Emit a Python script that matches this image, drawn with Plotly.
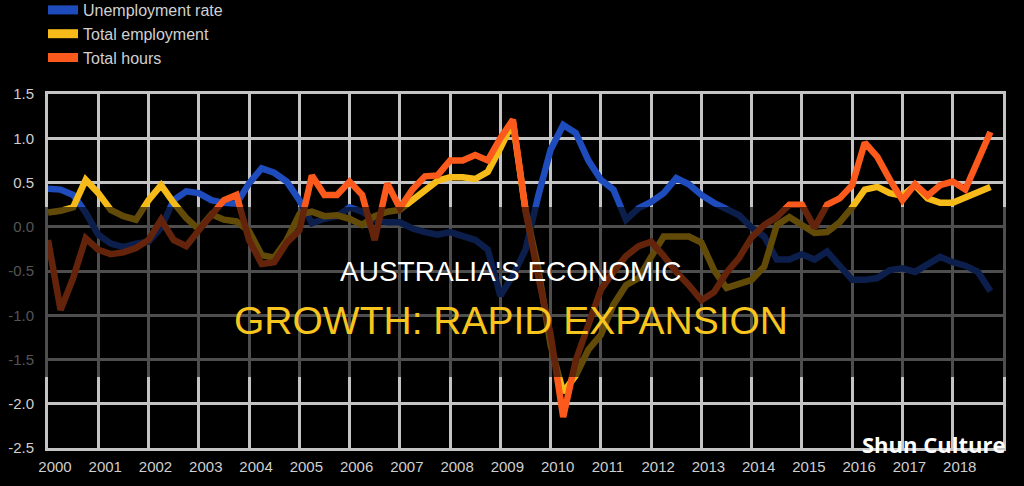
import plotly.graph_objects as go

# ---- data (quarterly, 2000 Q1 .. 2018 Q4) ----
years = list(range(2000, 2019))
quarters = [y + q / 4 for y in years for q in range(4)]

unemployment_rate = [
    0.43, 0.42, 0.36, 0.16, -0.09, -0.19, -0.23, -0.19,
    -0.17, -0.01, 0.30, 0.40, 0.38, 0.30, 0.27, 0.26,
    0.49, 0.66, 0.61, 0.51, 0.30, 0.04, 0.09, 0.12,
    0.22, 0.17, 0.08, 0.05, 0.05, -0.02, -0.06, -0.09,
    -0.06, -0.10, -0.15, -0.26, -0.78, -0.55, -0.26, 0.34,
    0.87, 1.15, 1.06, 0.75, 0.53, 0.42, 0.08, 0.21,
    0.28, 0.38, 0.55, 0.48, 0.36, 0.27, 0.21, 0.13,
    -0.01, -0.11, -0.37, -0.37, -0.31, -0.37, -0.28, -0.44,
    -0.60, -0.60, -0.58, -0.49, -0.47, -0.51, -0.42, -0.34,
    -0.40, -0.44, -0.51, -0.73,
]
total_employment = [
    0.16, 0.18, 0.22, 0.53, 0.38, 0.19, 0.12, 0.08,
    0.30, 0.47, 0.27, 0.10, -0.03, 0.14, 0.08, 0.06,
    -0.05, -0.32, -0.35, -0.15, 0.14, 0.17, 0.12, 0.13,
    0.09, 0.02, 0.12, 0.17, 0.19, 0.30, 0.39, 0.52,
    0.56, 0.56, 0.54, 0.62, 0.89, 1.18, 0.19, -0.46,
    -1.34, -1.87, -1.68, -1.39, -1.22, -0.88, -0.66, -0.58,
    -0.34, -0.11, -0.11, -0.11, -0.18, -0.49, -0.69, -0.65,
    -0.60, -0.45, 0.02, 0.11, 0.03, -0.07, -0.06, 0.05,
    0.22, 0.42, 0.45, 0.38, 0.35, 0.47, 0.32, 0.27,
    0.27, 0.33, 0.40, 0.45,
]
total_hours = [
    -0.15, -0.94, -0.58, -0.13, -0.26, -0.31, -0.29, -0.24,
    -0.15, 0.08, -0.15, -0.22, -0.04, 0.13, 0.30, 0.36,
    -0.15, -0.42, -0.40, -0.18, -0.04, 0.58, 0.36, 0.36,
    0.51, 0.36, -0.15, 0.49, 0.21, 0.42, 0.57, 0.58,
    0.75, 0.75, 0.81, 0.75, 1.00, 1.21, 0.19, -0.55,
    -1.22, -2.15, -1.51, -1.11, -0.71, -0.51, -0.33, -0.22,
    -0.17, -0.33, -0.51, -0.66, -0.83, -0.74, -0.52, -0.35,
    -0.12, 0.02, 0.11, 0.25, 0.25, -0.01, 0.25, 0.32,
    0.47, 0.95, 0.79, 0.53, 0.30, 0.48, 0.35, 0.47,
    0.51, 0.42, 0.75, 1.07,
]

series_names = ["Unemployment rate", "Total employment", "Total hours"]
series_values = [unemployment_rate, total_employment, total_hours]
series_colors = ["#1f4cbc", "#f6bb18", "#fb5a1c"]

y_ticks = [1.5, 1.0, 0.5, 0.0, -0.5, -1.0, -1.5, -2.0, -2.5]
y_tick_text = ["1.5", "1.0", "0.5", "0.0", "-0.5", "-1.0", "-1.5", "-2.0", "-2.5"]
x_tick_text = [str(y) for y in years]

title_line1 = "AUSTRALIA'S ECONOMIC"
title_line2 = "GROWTH: RAPID EXPANSION"
watermark = "Shun Culture"

# ---- figure ----
fig = go.Figure()
for name, vals, col in zip(series_names, series_values, series_colors):
    fig.add_trace(go.Scatter(
        x=quarters, y=vals, mode="lines", name=name,
        line=dict(color=col, width=6.5), showlegend=False,
        hoverinfo="skip",
    ))
# legend entries
for name, col in zip(series_names, series_colors):
    fig.add_trace(go.Scatter(
        x=[None], y=[None], mode="lines", name=name,
        line=dict(color=col, width=9), showlegend=True,
    ))

grid_col = "#c4c4c4"
L, R, T, B = 48, 21, 94, 38
W, H = 1024, 486
pw, ph = W - L - R, H - T - B

def py(px):  # pixel y (from top) -> paper y
    return (H - B - px) / ph

def pxx(px):  # pixel x -> paper x
    return (px - L) / pw

fig.update_layout(
    width=W, height=H,
    margin=dict(l=L, r=R, t=T, b=B, autoexpand=False),
    paper_bgcolor="#000000", plot_bgcolor="#000000",
    font=dict(family="Liberation Sans, Arial, sans-serif", color="#cfcfcf"),
    showlegend=True,
    legend=dict(
        x=pxx(43), y=py(-7), xanchor="left", yanchor="top",
        bgcolor="rgba(0,0,0,0)", font=dict(size=16, color="#d0d0d0"),
        itemwidth=30, tracegroupgap=0,
    ),
    xaxis=dict(
        range=[2000, 2019], tickvals=years, ticktext=x_tick_text,
        showgrid=True, gridcolor=grid_col, gridwidth=3,
        showline=True, linecolor=grid_col, linewidth=3, mirror=True,
        zeroline=False, ticks="", tickfont=dict(size=15, color="#cfcfcf"),
        ticklabelshift=7, ticklabelstandoff=3,
    ),
    yaxis=dict(
        range=[-2.5, 1.5], tickvals=y_ticks, ticktext=y_tick_text,
        showgrid=True, gridcolor=grid_col, gridwidth=3,
        showline=True, linecolor=grid_col, linewidth=3, mirror=True,
        zeroline=False, ticks="", tickfont=dict(size=15, color="#cfcfcf"),
        ticklabelstandoff=8,
    ),
    shapes=[dict(
        type="rect", xref="paper", yref="paper",
        x0=pxx(-5), x1=pxx(W + 5), y0=py(377), y1=py(207),
        fillcolor="rgba(0,0,0,0.6)", line=dict(width=0), layer="above",
    )],
    annotations=[
        dict(text=title_line1, xref="paper", yref="paper",
             x=pxx(510), y=py(271), xanchor="center", yanchor="middle",
             showarrow=False,
             font=dict(family="Liberation Sans, Arial", size=28, color="#ffffff")),
        dict(text=title_line2, xref="paper", yref="paper",
             x=pxx(511), y=py(320), xanchor="center", yanchor="middle",
             showarrow=False,
             font=dict(family="Liberation Sans, Arial", size=39, color="#f7c51e")),
        dict(text="<b>" + watermark + "</b>", xref="paper", yref="paper",
             x=pxx(933), y=py(444), xanchor="center", yanchor="middle",
             showarrow=False,
             font=dict(family="Open Sans, sans-serif", size=22, color="#ffffff")),
    ],
)

fig.write_html(
    "out.html",
    config={"displayModeBar": False, "staticPlot": True},
    post_script="document.body.style.margin='0';document.body.style.background='#000';",
)
